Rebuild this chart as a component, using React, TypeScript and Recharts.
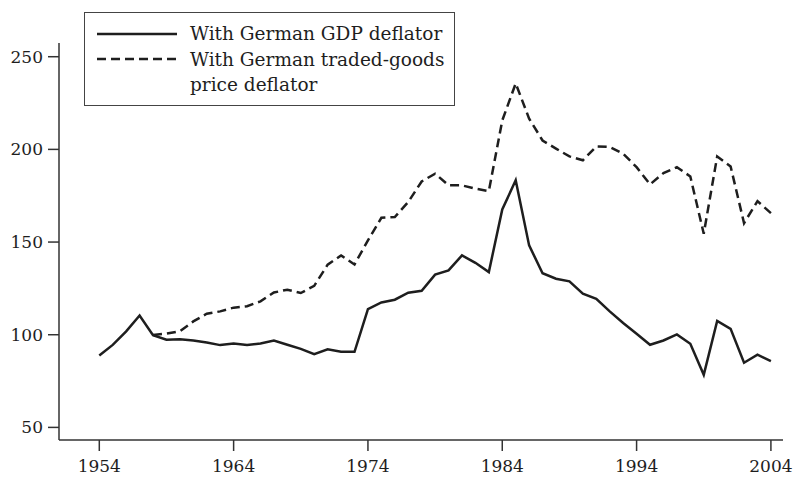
import { LineChart, Line, XAxis, YAxis } from 'recharts';

const years = [
  1954, 1955, 1956, 1957, 1958, 1959, 1960, 1961, 1962, 1963,
  1964, 1965, 1966, 1967, 1968, 1969, 1970, 1971, 1972, 1973,
  1974, 1975, 1976, 1977, 1978, 1979, 1980, 1981, 1982, 1983,
  1984, 1985, 1986, 1987, 1988, 1989, 1990, 1991, 1992, 1993,
  1994, 1995, 1996, 1997, 1998, 1999, 2000, 2001, 2002, 2003, 2004,
];

// real exchange rate index, German GDP deflator
const gdpDeflator = [
  88.8, 94.5, 101.8, 110.4, 99.8, 97.3, 97.5, 96.9, 95.8, 94.4,
  95.3, 94.5, 95.3, 96.9, 94.6, 92.4, 89.5, 92.1, 90.8, 90.8,
  113.8, 117.4, 118.9, 122.7, 123.7, 132.4, 134.7, 142.8, 138.8, 133.8,
  167.6, 183.3, 148.2, 133.2, 130.2, 128.8, 122.1, 119.4, 112.6, 106.3,
  100.5, 94.6, 96.9, 100.2, 95.1, 78.4, 107.4, 103.2, 84.9, 89.2, 85.8,
];

// traded-goods price deflator, starts 1958
const tradedDeflator = [
  null, null, null, null, 99.8, 100.6, 101.9, 107.2, 111.3, 112.6,
  114.6, 115.4, 118.0, 122.8, 124.3, 122.5, 126.4, 137.8, 142.8, 137.9,
  150.9, 163.1, 163.5, 171.6, 182.7, 186.9, 180.6, 180.6, 178.8, 177.5,
  215.6, 235.6, 216.6, 204.8, 200.4, 196.2, 194.1, 201.6, 201.3, 197.7,
  190.4, 181.1, 187.2, 190.4, 185.4, 154.5, 196.2, 190.8, 160.2, 172.1, 165.6,
];

const xTicks = [1954, 1964, 1974, 1984, 1994, 2004];
const yTicks = [50, 100, 150, 200, 250];

const seriesNames = ['With German GDP deflator', 'With German traded-goods price deflator'];

const data = years.map((year, i) => ({
  year,
  gdp: gdpDeflator[i],
  traded: tradedDeflator[i],
}));

const font = 'DejaVu Serif, Liberation Serif, serif';
const ink = '#1e1e1e';

function LegendBox() {
  const row = { display: 'flex', alignItems: 'flex-start' } as const;
  return (
    <div
      style={{
        position: 'absolute',
        left: 84,
        top: 12,
        width: 369,
        height: 92,
        border: '1.5px solid #444',
        fontFamily: font,
        fontSize: 18.5,
        color: ink,
        background: '#fff',
      }}
    >
      <div style={{ paddingTop: 9, paddingLeft: 12 }}>
        <div style={{ ...row, height: 25 }}>
          <svg width={80} height={25} style={{ flex: 'none' }}>
            <line x1={0} x2={80} y1={12} y2={12} stroke={ink} strokeWidth={2.5} />
          </svg>
          <span style={{ marginLeft: 13, lineHeight: '24px' }}>{seriesNames[0]}</span>
        </div>
        <div style={row}>
          <svg width={80} height={25} style={{ flex: 'none' }}>
            <line x1={0} x2={80} y1={12} y2={12} stroke={ink} strokeWidth={2.5} strokeDasharray="9 5" />
          </svg>
          <span style={{ marginLeft: 13, lineHeight: '25px' }}>
            With German traded-goods
            <br />
            price deflator
          </span>
        </div>
      </div>
    </div>
  );
}

export default function App() {
  const tick = { fill: ink, fontSize: 17, fontFamily: font };
  return (
    <div style={{ position: 'absolute', left: 0, top: 0, width: 793, height: 477, background: '#fff' }}>
      <LineChart width={793} height={477} data={data} margin={{ top: 43, right: 10, bottom: 0, left: 0 }}>
        <XAxis
          type="number"
          dataKey="year"
          domain={[1951, 2004.9]}
          ticks={xTicks}
          allowDataOverflow
          tick={tick}
          tickSize={11}
          tickMargin={9}
          height={37}
          axisLine={{ stroke: '#333', strokeWidth: 1.5 }}
          tickLine={{ stroke: '#333', strokeWidth: 1.5 }}
        />
        <YAxis
          type="number"
          domain={[43.2, 257.4]}
          ticks={yTicks}
          allowDataOverflow
          tick={tick}
          tickSize={11}
          tickMargin={5}
          width={59}
          axisLine={{ stroke: '#333', strokeWidth: 1.5 }}
          tickLine={{ stroke: '#333', strokeWidth: 1.5 }}
        />
        <Line
          type="linear"
          dataKey="gdp"
          name={seriesNames[0]}
          stroke={ink}
          strokeWidth={2.5}
          dot={false}
          isAnimationActive={false}
        />
        <Line
          type="linear"
          dataKey="traded"
          name={seriesNames[1]}
          stroke={ink}
          strokeWidth={2.5}
          strokeDasharray="9 5"
          dot={false}
          isAnimationActive={false}
        />
      </LineChart>
      <LegendBox />
    </div>
  );
}
